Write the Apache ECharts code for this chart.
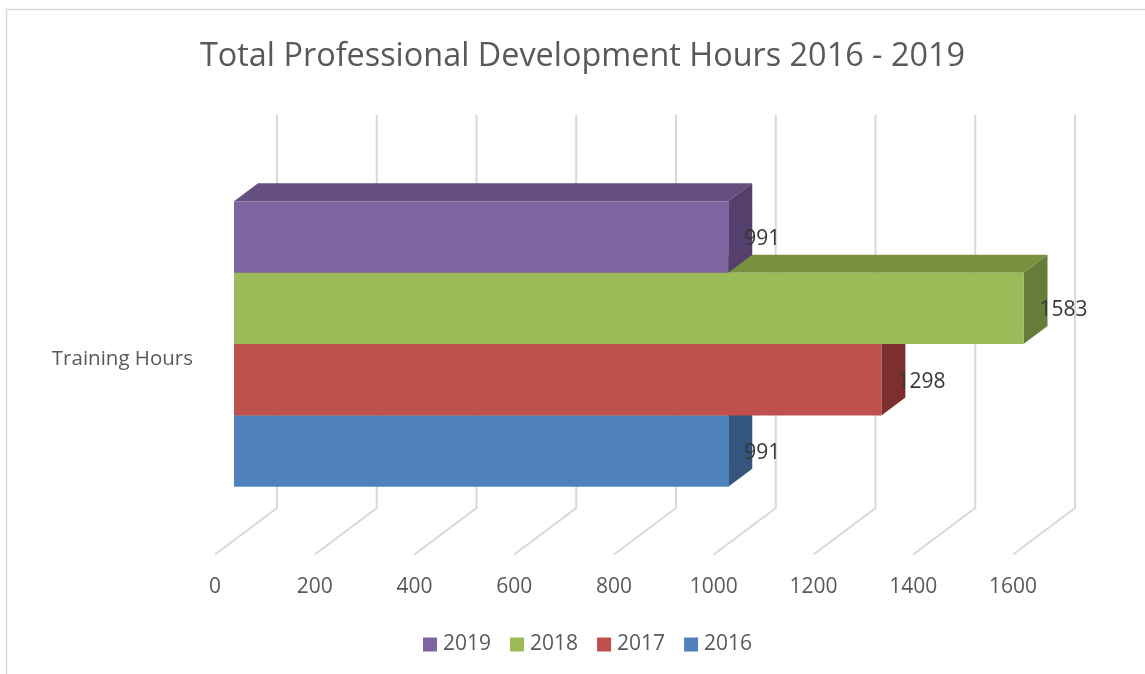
<!DOCTYPE html>
<html>
<head>
<meta charset="utf-8">
<title>Total Professional Development Hours 2016 - 2019</title>
<script src="https://cdn.jsdelivr.net/npm/echarts@6/dist/echarts.min.js"></script>
<style>
  html, body { margin: 0; padding: 0; background: #fff; }
  #chart { width: 1145px; height: 674px; }
</style>
</head>
<body>
<div id="chart"></div>
<script>
var categories = ['Training Hours'];
var years = ['2016', '2017', '2018', '2019'];
var hours = [991, 1298, 1583, 991];
var tickValues = [0, 200, 400, 600, 800, 1000, 1200, 1400, 1600];
var legendOrder = ['2019', '2018', '2017', '2016'];

// front, top and side face colours, same order as years
var frontColors = ['#4F81BD', '#C0504D', '#9BBB59', '#8064A2'];
var topColors = ['#3D6491', '#943E3B', '#78913F', '#644F7E'];
var sideColors = ['#33557E', '#7C2F2D', '#677C39', '#553F6C'];

var font = '"Open Sans", "Noto Sans", sans-serif';
var chart = echarts.init(document.getElementById('chart'));

// bars sit a bit inside the floor, walls go further back
var barShiftX = 19, depthX = 24, depthY = 18;
var wallX = 62, wallY = 46.5, wallHeight = 393;

// top edge and height of the front face for bar i
function barBox(api, i, centerY) {
  var h = api.size([0, 1])[1] * 0.1828;
  // stack of four around the middle, the whole group lifted off the label line
  return { y: centerY - 15.2 + (1 - i) * h, h: h };
}

function renderBar(params, api) {
  var i = api.value(1);
  var end = api.coord([api.value(0), 0]);
  var start = api.coord([0, 0]);
  var box = barBox(api, i, end[1]);
  var y0 = box.y, h = box.h;
  var x0 = start[0] + barShiftX;
  var x1 = end[0] + barShiftX;
  return {
    type: 'group',
    children: [{
      type: 'polygon',
      shape: { points: [[x0, y0], [x0 + depthX, y0 - depthY], [x1 + depthX, y0 - depthY], [x1, y0]] },
      style: { fill: topColors[i] }
    }, {
      type: 'polygon',
      shape: { points: [[x1, y0], [x1 + depthX, y0 - depthY], [x1 + depthX, y0 + h - depthY], [x1, y0 + h]] },
      style: { fill: sideColors[i] }
    }, {
      type: 'rect',
      shape: { x: x0, y: y0, width: x1 - x0, height: h },
      style: { fill: frontColors[i] }
    }]
  };
}

function renderBarLabel(params, api) {
  var end = api.coord([api.value(0), 0]);
  var box = barBox(api, api.value(1), end[1]);
  return {
    type: 'text',
    style: {
      text: String(api.value(0)),
      x: end[0] + barShiftX + 16,
      y: box.y + box.h / 2 + 2,
      align: 'left',
      verticalAlign: 'middle',
      fill: '#363636',
      font: '21px ' + font
    }
  };
}

function renderWall(params, api) {
  var x = api.coord([api.value(0), 0])[0];
  var floor = params.coordSys.y + params.coordSys.height;
  return {
    type: 'polyline',
    shape: { points: [[x, floor], [x + wallX, floor - wallY], [x + wallX, floor - wallY - wallHeight]] },
    style: { fill: null, stroke: '#D9D9D9', lineWidth: 2 }
  };
}

var series = [{
  name: 'walls',
  type: 'custom',
  renderItem: renderWall,
  silent: true,
  encode: { x: 0 },
  data: tickValues.map(function (v) { return [v]; })
}];

years.forEach(function (year, i) {
  series.push({
    name: year,
    type: 'custom',
    renderItem: renderBar,
    itemStyle: { color: frontColors[i] },
    encode: { x: 0 },
    data: [[hours[i], i]]
  });
});

series.push({
  name: 'values',
  type: 'custom',
  renderItem: renderBarLabel,
  silent: true,
  z: 5,
  encode: { x: 0 },
  data: hours.map(function (v, i) { return [v, i]; })
});

chart.setOption({
  animation: false,
  backgroundColor: '#fff',
  title: {
    text: 'Total Professional Development Hours 2016 - 2019',
    left: 577.5,
    top: 36,
    textAlign: 'center',
    textStyle: { fontFamily: font, fontSize: 32.4, fontWeight: 'normal', color: '#595959' }
  },
  legend: {
    data: legendOrder,
    left: 423,
    top: 634,
    padding: 0,
    icon: 'rect',
    itemWidth: 14,
    itemHeight: 14,
    itemGap: 19,
    textStyle: { fontFamily: font, fontSize: 21, color: '#595959', padding: [0, 0, 0, 1] }
  },
  grid: { left: 215, top: 164, width: 798, height: 390.5 },
  xAxis: {
    type: 'value',
    min: 0,
    max: 1600,
    interval: 200,
    axisLine: { show: false },
    axisTick: { show: false },
    splitLine: { show: false },
    axisLabel: {
      margin: 22,
      fontFamily: font,
      fontSize: 21,
      color: '#595959',
      formatter: function (v) { return String(v); }
    }
  },
  yAxis: {
    type: 'category',
    data: categories,
    axisLine: { show: false },
    axisTick: { show: false },
    splitLine: { show: false },
    axisLabel: { margin: 22, padding: [6, 0, 0, 0], fontFamily: font, fontSize: 20.5, color: '#595959' }
  },
  graphic: [{
    type: 'polyline',
    silent: true,
    shape: { points: [[6.5, 674], [6.5, 9.5], [1145, 9.5]] },
    style: { fill: null, stroke: '#D9D9D9', lineWidth: 1.5 }
  }],
  series: series
});
</script>
</body>
</html>
